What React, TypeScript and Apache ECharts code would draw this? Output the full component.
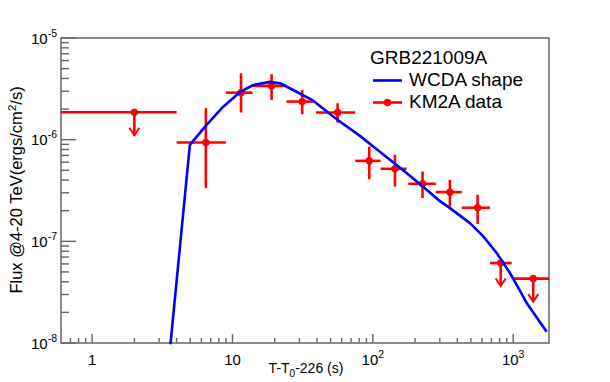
import React, { useEffect, useRef } from 'react';
import * as echarts from 'echarts';

// ---- axis ranges (data units) ----
const X_MIN = 0.6;
const X_MAX = 1800;
const Y_MIN = 1e-8;
const Y_MAX = 1e-5;

// ---- tick values ----
const xMajorTicks = [1, 10, 100, 1000];
const xMinorTicks = [0.7, 0.8, 0.9, 2, 3, 4, 5, 6, 7, 8, 9, 20, 30, 40, 50, 60, 70, 80, 90, 200, 300, 400, 500, 600, 700, 800, 900];
const yMajorTicks = [1e-8, 1e-7, 1e-6, 1e-5];
const yMinorTicks = [
  2e-8, 3e-8, 4e-8, 5e-8, 6e-8, 7e-8, 8e-8, 9e-8,
  2e-7, 3e-7, 4e-7, 5e-7, 6e-7, 7e-7, 8e-7, 9e-7,
  2e-6, 3e-6, 4e-6, 5e-6, 6e-6, 7e-6, 8e-6, 9e-6,
];

// ---- KM2A data ----
const kmT = [2.0, 6.46, 11.5, 19.0, 31.4, 56.1, 94.3, 143.7, 226, 354, 558, 815, 1390];
const kmTLow = [0.3, 4.0, 8.97, 13.9, 24.3, 39.3, 75, 113.6, 179, 281, 430, 683, 1000];
const kmTHigh = [4.0, 8.97, 13.9, 24.3, 37.6, 75, 113.6, 174, 281, 430, 683, 976, 2500];
const kmF = [1.86e-6, 9.37e-7, 2.9e-6, 3.38e-6, 2.37e-6, 1.85e-6, 6.19e-7, 5.17e-7, 3.68e-7, 3.05e-7, 2.14e-7, 6.12e-8, 4.3e-8];
const kmFUp = [null, 2.04e-6, 4.5e-6, 4.4e-6, 3.08e-6, 2.28e-6, 8.55e-7, 7.1e-7, 4.86e-7, 4.03e-7, 2.87e-7, null, null];
const kmFDown = [null, 3.34e-7, 1.85e-6, 2.46e-6, 1.78e-6, 1.47e-6, 4.09e-7, 3.46e-7, 2.66e-7, 2.2e-7, 1.48e-7, null, null];
const kmUpperLimit = [true, false, false, false, false, false, false, false, false, false, false, true, true];

// ---- WCDA shape curve ----
const wcdaT = [3.0, 4.97, 6.54, 8.59, 11.29, 14.05, 18.48, 21.77, 27.08, 37.6, 52.2, 58.3, 80.9, 100.7, 174, 255, 292.6, 354.5, 492, 612, 763, 949, 1106, 1248, 1733];
const wcdaF = [6.9e-10, 8.89e-7, 1.4e-6, 2.11e-6, 2.93e-6, 3.45e-6, 3.7e-6, 3.59e-6, 3.08e-6, 2.42e-6, 1.69e-6, 1.51e-6, 1.09e-6, 8.55e-7, 4.69e-7, 3.02e-7, 2.56e-7, 2.12e-7, 1.51e-7, 1.12e-7, 7.68e-8, 4.88e-8, 3.35e-8, 2.48e-8, 1.29e-8];

const legendTitle = 'GRB221009A';
const wcdaName = 'WCDA shape';
const km2aName = 'KM2A data';
const xTitle = 'T-T{sub|0}-226 (s)';
const yTitle = 'Flux @4-20 TeV(ergs/cm{sup|2}/s)';

const FONT = "'Liberation Sans', Arial, Helvetica, sans-serif";
const RED = '#ff0000';
const BLUE = '#0000ff';
const AXIS_GRAY = '#666666';

const lg = (v: number) => Math.log10(v);

function powLabel(v: number): string {
  const e = Math.round(v);
  if (e === 0) return '{b|1}';
  if (e === 1) return '{b|10}';
  return '{b|10}{sup|' + e + '}';
}

const labelRich = {
  b: { fontSize: 15, fontFamily: FONT, color: '#000', lineHeight: 22, verticalAlign: 'middle' },
  sup: { fontSize: 10.5, fontFamily: FONT, color: '#000', lineHeight: 11, verticalAlign: 'top' },
};

const X_MAJOR_LEN = 9;
const X_MINOR_LEN = 5;
const Y_MAJOR_LEN = 15;
const Y_MINOR_LEN = 8;

export default function App() {
  const ref = useRef<HTMLDivElement>(null);
  useEffect(() => {
    if (!ref.current) return;
    const chart = echarts.init(ref.current, null, { renderer: 'svg' });

    const kmData = kmT.map((t, i) => [
      lg(t),
      lg(kmF[i]),
      lg(kmTLow[i]),
      lg(kmTHigh[i]),
      kmFDown[i] == null ? lg(kmF[i]) : lg(kmFDown[i] as number),
      kmFUp[i] == null ? lg(kmF[i]) : lg(kmFUp[i] as number),
      kmUpperLimit[i] ? 1 : 0,
    ]);
    const wcdaData = wcdaT.map((t, i) => [lg(t), lg(wcdaF[i])]);

    const baseGraphics: any[] = [
      { type: 'text', x: 370, y: 57, style: { text: legendTitle, font: `19px ${FONT}`, fill: '#000', align: 'left', verticalAlign: 'middle' } },
      { type: 'line', shape: { x1: 373, y1: 80.5, x2: 402, y2: 80.5 }, style: { stroke: BLUE, lineWidth: 2.6 } },
      { type: 'text', x: 409, y: 79.5, style: { text: wcdaName, font: `19px ${FONT}`, fill: '#000', align: 'left', verticalAlign: 'middle' } },
      { type: 'line', shape: { x1: 373, y1: 102.5, x2: 402, y2: 102.5 }, style: { stroke: RED, lineWidth: 2.6 } },
      { type: 'circle', shape: { cx: 387.5, cy: 102.5, r: 3.8 }, style: { fill: RED } },
      { type: 'text', x: 409, y: 101.5, style: { text: km2aName, font: `19px ${FONT}`, fill: '#000', align: 'left', verticalAlign: 'middle' } },
      // axis titles
      {
        type: 'text', x: 306, y: 368,
        style: {
          text: xTitle, fontSize: 14, fontFamily: FONT, fill: '#000', align: 'center', verticalAlign: 'middle', lineHeight: 20,
          rich: { sub: { fontSize: 10, fontFamily: FONT, fill: '#000', lineHeight: 12, verticalAlign: 'bottom' } },
        },
      },
      {
        type: 'text', x: 16, y: 190, rotation: Math.PI / 2,
        style: {
          text: yTitle, fontSize: 16.5, fontFamily: FONT, fill: '#000', align: 'center', verticalAlign: 'middle', lineHeight: 20,
          rich: { sup: { fontSize: 11.5, fontFamily: FONT, fill: '#000', lineHeight: 11, verticalAlign: 'top' } },
        },
      },
    ];

    const option: any = {
      animation: false,
      grid: {
        left: 61, top: 38, right: 61, bottom: 39,
        show: true, borderColor: AXIS_GRAY, borderWidth: 1.5,
        outerBoundsMode: 'none',
      },
      xAxis: {
        type: 'value', min: lg(X_MIN), max: lg(X_MAX), position: 'bottom',
        axisLine: { show: false, onZero: false }, splitLine: { show: false }, axisTick: { show: false },
        axisLabel: { show: true, customValues: xMajorTicks.map(lg), formatter: (v: number) => powLabel(v), margin: 5, rich: labelRich, lineHeight: 22 },
      },
      yAxis: {
        type: 'value', min: lg(Y_MIN), max: lg(Y_MAX), position: 'left',
        axisLine: { show: false, onZero: false }, splitLine: { show: false }, axisTick: { show: false },
        axisLabel: { show: true, customValues: yMajorTicks.map(lg), formatter: (v: number) => powLabel(v), margin: 4, rich: labelRich, lineHeight: 22 },
      },
      series: [
        {
          name: wcdaName, type: 'line',
          data: wcdaData, showSymbol: false, symbol: 'none', smooth: false, clip: true,
          lineStyle: { color: BLUE, width: 2.6 },
        },
        {
          name: km2aName, type: 'custom', clip: true,
          data: kmData,
          encode: { x: [0, 2, 3], y: [1, 4, 5] },
          renderItem: (params: any, api: any) => {
            const x = api.value(0), y = api.value(1);
            const xl = api.value(2), xh = api.value(3);
            const yl = api.value(4), yh = api.value(5);
            const ul = api.value(6);
            const c = api.coord([x, y]);
            const l = api.coord([xl, y]);
            const r = api.coord([xh, y]);
            const lineStyle = { stroke: RED, lineWidth: 2.6, fill: null };
            const children: any[] = [
              { type: 'line', shape: { x1: l[0], y1: c[1], x2: r[0], y2: c[1] }, style: lineStyle },
            ];
            if (ul) {
              const len = 23;
              children.push({ type: 'line', shape: { x1: c[0], y1: c[1], x2: c[0], y2: c[1] + len }, style: lineStyle });
              children.push({ type: 'polyline', shape: { points: [[c[0] - 5, c[1] + len - 7.5], [c[0], c[1] + len], [c[0] + 5, c[1] + len - 7.5]] }, style: { stroke: RED, lineWidth: 2, fill: null } });
            } else {
              const lo = api.coord([x, yl]);
              const hi = api.coord([x, yh]);
              children.push({ type: 'line', shape: { x1: c[0], y1: lo[1], x2: c[0], y2: hi[1] }, style: lineStyle });
            }
            children.push({ type: 'circle', shape: { cx: c[0], cy: c[1], r: 3.8 }, style: { fill: RED, stroke: null } });
            return { type: 'group', children };
          },
        },
      ],
      graphic: baseGraphics,
    };
    chart.setOption(option);

    // axis ticks, positioned through the chart's own scales
    const toPx = (x: number, y: number) => chart.convertToPixel({ gridIndex: 0 }, [x, y]) as number[];
    const tickStyle = { stroke: AXIS_GRAY, lineWidth: 1.4 };
    const tickGraphics: any[] = [];
    const addX = (vals: number[], len: number) => vals.forEach((v) => {
      const p = toPx(lg(v), lg(Y_MIN));
      tickGraphics.push({ type: 'line', silent: true, z: 5, shape: { x1: p[0], y1: p[1], x2: p[0], y2: p[1] - len }, style: tickStyle });
    });
    const addY = (vals: number[], len: number) => vals.forEach((v) => {
      const p = toPx(lg(X_MIN), lg(v));
      tickGraphics.push({ type: 'line', silent: true, z: 5, shape: { x1: p[0], y1: p[1], x2: p[0] + len, y2: p[1] }, style: tickStyle });
    });
    addX(xMajorTicks, X_MAJOR_LEN);
    addX(xMinorTicks, X_MINOR_LEN);
    addY(yMajorTicks, Y_MAJOR_LEN);
    addY(yMinorTicks, Y_MINOR_LEN);
    chart.setOption({ graphic: [...baseGraphics, ...tickGraphics] });

    return () => chart.dispose();
  }, []);
  return <div ref={ref} style={{ position: 'fixed', left: 0, top: 0, width: 610, height: 382, background: '#fff' }} />;
}
